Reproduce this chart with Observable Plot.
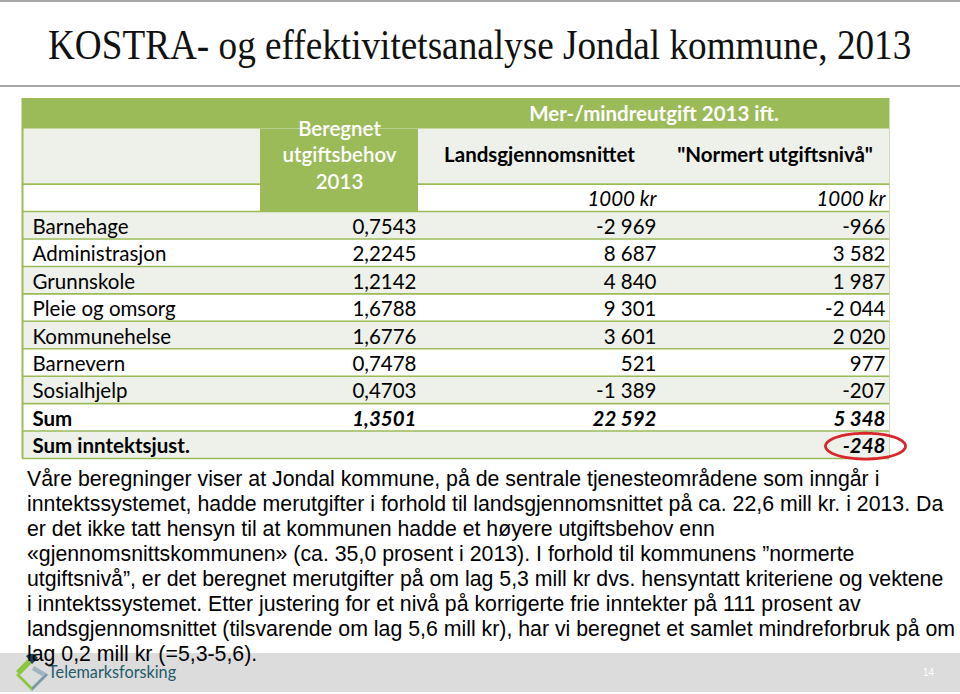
<!DOCTYPE html>
<html><head><meta charset="utf-8">
<script src="https://cdn.jsdelivr.net/npm/d3@7"></script>
<script src="https://cdn.jsdelivr.net/npm/@observablehq/plot@0.6"></script>
<style>
html,body{margin:0;padding:0;background:#fff;}
#page{position:relative;width:960px;height:694px;overflow:hidden;background:#fff;}
.hr{position:absolute;left:0;width:960px;background:#a6a6a6;}
#title{position:absolute;left:48px;top:24px;font-family:"Liberation Serif",serif;font-size:42px;line-height:42px;white-space:nowrap;transform:scaleX(0.886);transform-origin:0 0;color:#111;}
#chart{position:absolute;left:0;top:0;}
#footer{position:absolute;left:0;top:653px;width:960px;height:39px;background:#dcdcdc;}
#logoText{position:absolute;left:48px;top:660px;font-family:Lato,sans-serif;font-size:18px;color:#1f5a6b;white-space:nowrap;transform:scaleX(0.9);transform-origin:0 0;}
#pnum{position:absolute;left:923px;top:667px;font-family:"Liberation Sans",sans-serif;font-size:10px;color:#fff;}
#text{position:absolute;left:27px;top:467px;font-family:"Liberation Sans",Arial,sans-serif;font-size:21.3px;line-height:25px;color:#000;white-space:nowrap;}
</style></head>
<body><div id="page">
<div class="hr" style="top:0;height:2px"></div>
<div id="title">KOSTRA- og effektivitetsanalyse Jondal kommune, 2013</div>
<div class="hr" style="top:85px;height:2px"></div>
<div id="footer"></div>
<svg style="position:absolute;left:14px;top:654px" width="36" height="38" viewBox="0 0 36 38">
  <polygon points="4,19 18,33 18,37 2,21" fill="#8cc63f"/>
  <polygon points="2,17 14,5 18,9 6,21" fill="#8cc63f"/>
  <polygon points="12,2 18,-2 24,4 18,10" fill="#1d3f5e"/>
  <polygon points="18,33 32,19 34,21 18,37" fill="#7c97a8"/>
  <polygon points="20,12 32,19 28,22 18,16" fill="#9fb3c0"/>
</svg>
<div id="logoText">Telemarksforsking</div>
<div id="pnum">14</div>
<div id="chart"></div>
<div id="text">
<div>Våre beregninger viser at Jondal kommune, på de sentrale tjenesteområdene som inngår i</div>
<div>inntektssystemet, hadde merutgifter i forhold til landsgjennomsnittet på ca. 22,6 mill kr. i 2013. Da</div>
<div>er det ikke tatt hensyn til at kommunen hadde et høyere utgiftsbehov enn</div>
<div>«gjennomsnittskommunen» (ca. 35,0 prosent i 2013). I forhold til kommunens ”normerte</div>
<div>utgiftsnivå”, er det beregnet merutgifter på om lag 5,3 mill kr  dvs. hensyntatt kriteriene og vektene</div>
<div>i inntektssystemet. Etter justering for et nivå på korrigerte frie inntekter på 111 prosent av</div>
<div>landsgjennomsnittet (tilsvarende om lag 5,6 mill kr), har vi beregnet et samlet mindreforbruk på om</div>
<div>lag 0,2 mill kr (=5,3-5,6).</div>
</div>
</div>
<script>
// ---- data ----
const categories = ["Barnehage","Administrasjon","Grunnskole","Pleie og omsorg","Kommunehelse","Barnevern","Sosialhjelp"];
const behov = [0.7543, 2.2245, 1.2142, 1.6788, 1.6776, 0.7478, 0.4703];
const lands = [-2969, 8687, 4840, 9301, 3601, 521, -1389];
const normert = [-966, 3582, 1987, -2044, 2020, 977, -207];
const sumLabels = ["Sum", "Sum inntektsjust."];
const sumBehov = [1.3501, null];
const sumLands = [22592, null];
const sumNormert = [5348, -248];
const headerTop = "Mer-/mindreutgift 2013 ift.";
const headerBehov = ["Beregnet", "utgiftsbehov", "2013"];
const headerCols = ["Landsgjennomsnittet", "\"Normert utgiftsnivå\""];
const unitLabel = "1000 kr";

// ---- layout ----
const green = "#9bbb59", light = "#eef1ea";
const tableW = 867;
const col = {label: [0, 238], behov: [238, 396], lands: [396, 638], norm: [638, 867]};
const pad = 4;
const yTop = -0.12;

const loc = d3.formatLocale({decimal: ",", thousands: " ", grouping: [3], currency: ["", " kr"], minus: "-"});
const fDec = loc.format(".4f");
const fInt = loc.format(",d");

const rows = categories.map((c, i) => ({row: 4 + i, label: c, behov: fDec(behov[i]), lands: fInt(lands[i]), norm: fInt(normert[i]), bold: false}));
sumLabels.forEach((c, i) => rows.push({row: 11 + i, label: c,
  behov: sumBehov[i] == null ? "" : fDec(sumBehov[i]),
  lands: sumLands[i] == null ? "" : fInt(sumLands[i]),
  norm: fInt(sumNormert[i]), bold: true}));

const bands = [
  {x1: 0, x2: tableW, y1: yTop, y2: 1, fill: green},
  {x1: 0, x2: tableW, y1: 1, y2: 3, fill: light},
  {x1: 0, x2: tableW, y1: 3, y2: 4, fill: "#ffffff"},
  ...rows.map((r, i) => ({x1: 0, x2: tableW, y1: r.row, y2: r.row + 1, fill: i % 2 === 0 ? light : "#ffffff"})),
  {x1: col.behov[0], x2: col.behov[1], y1: 1, y2: 4, fill: green}
];
const lines = d3.range(3, 14);

const normal = rows.filter(d => !d.bold), bold = rows.filter(d => d.bold);
const adj = rows[rows.length - 1];
const ell = d3.range(0, 121).map(k => {
  const t = k / 120 * 2 * Math.PI;
  return {x: col.norm[1] - 24 + 40 * Math.cos(t), y: adj.row + 0.55 + 0.47 * Math.sin(t)};
});

const txt = {fontSize: 20.5, fill: "#000"};
const plot = Plot.plot({
  width: 960, height: 470,
  marginTop: 98, marginBottom: 12, marginLeft: 22, marginRight: 71,
  style: {fontFamily: "Lato, sans-serif", fontSize: "20px", background: "transparent", overflow: "visible"},
  x: {domain: [0, tableW], axis: null},
  y: {domain: [yTop, 13], reverse: true, axis: null},
  color: {type: "identity"},
  marks: [
    Plot.rect(bands, {x1: "x1", x2: "x2", y1: "y1", y2: "y2", fill: "fill"}),
    Plot.ruleY(lines, {x1: 0, x2: tableW, stroke: green, strokeWidth: 1.6}),
    Plot.ruleX([0], {y1: yTop, y2: 13, stroke: green, strokeWidth: 2}),
    Plot.ruleX([tableW], {y1: yTop, y2: 13, stroke: "#cddbb0", strokeWidth: 1}),
    Plot.text([headerTop], {x: () => (col.behov[1] + col.norm[1]) / 2, y: () => 0.45, text: d => d, fill: "#fff", fontWeight: "bold", fontSize: 20.5}),
    Plot.text([headerBehov.join("\n")], {x: () => (col.behov[0] + col.behov[1]) / 2, y: () => 1.9, text: d => d, fill: "#fff", fontWeight: 600, fontSize: 20.5, lineHeight: 1.3}),
    Plot.text(headerCols, {x: (d, i) => i === 0 ? (col.lands[0] + col.lands[1]) / 2 : (col.norm[0] + col.norm[1]) / 2, y: () => 1.95, text: d => d, fontWeight: "bold", ...txt}),
    Plot.text([unitLabel, unitLabel], {x: (d, i) => i === 0 ? col.lands[1] - pad : col.norm[1] - pad, y: () => 3.5, text: d => d, textAnchor: "end", fontStyle: "italic", dy: 2, ...txt}),
    Plot.text(normal, {x: () => col.label[0] + 10, y: d => d.row + 0.5, text: "label", textAnchor: "start", dy: 2, ...txt}),
    Plot.text(normal, {x: () => col.behov[1] - 2, y: d => d.row + 0.5, text: "behov", textAnchor: "end", dy: 2, ...txt}),
    Plot.text(normal, {x: () => col.lands[1] - pad, y: d => d.row + 0.5, text: "lands", textAnchor: "end", dy: 2, ...txt}),
    Plot.text(normal, {x: () => col.norm[1] - pad, y: d => d.row + 0.5, text: "norm", textAnchor: "end", dy: 2, ...txt}),
    Plot.text(bold, {x: () => col.label[0] + 10, y: d => d.row + 0.5, text: "label", textAnchor: "start", fontWeight: "bold", dy: 2, ...txt}),
    Plot.text(bold, {x: () => col.behov[1] - 2, y: d => d.row + 0.5, text: "behov", textAnchor: "end", fontWeight: "bold", fontStyle: "italic", dy: 2, ...txt}),
    Plot.text(bold, {x: () => col.lands[1] - pad, y: d => d.row + 0.5, text: "lands", textAnchor: "end", fontWeight: "bold", fontStyle: "italic", dy: 2, ...txt}),
    Plot.text(bold, {x: () => col.norm[1] - pad, y: d => d.row + 0.5, text: "norm", textAnchor: "end", fontWeight: "bold", fontStyle: "italic", dy: 2, ...txt}),
    Plot.line(ell, {x: "x", y: "y", stroke: "#d9262b", strokeWidth: 2.8})
  ]
});
document.getElementById("chart").appendChild(plot);
</script>
</body></html>
